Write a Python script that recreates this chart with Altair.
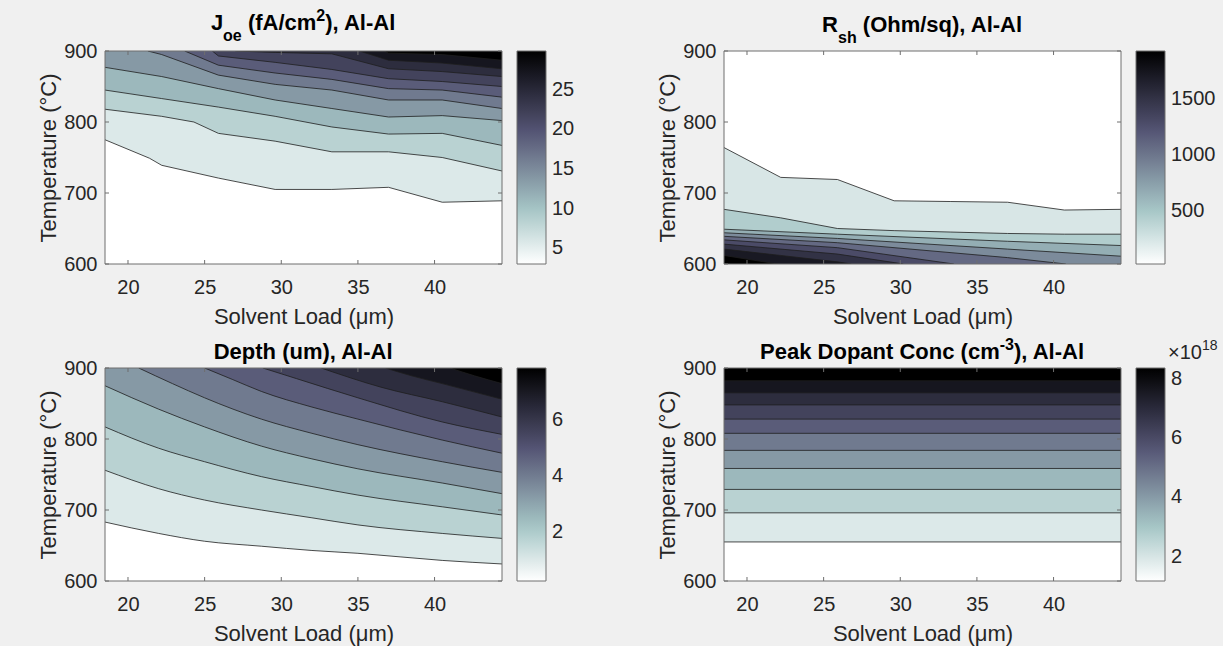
import altair as alt
import pandas as pd

FONT = "Liberation Sans"
TXT = "#262626"
EDGE = "#6e6e6e"
W, H = 397, 213

X_DOMAIN = [18.5, 44.4]
Y_DOMAIN = [600, 900]
x_ticks = [20, 25, 30, 35, 40]
y_ticks = [600, 700, 800, 900]

# ---------------- J_oe (fA/cm2) ----------------
joe_clim = [3.0, 29.9]
joe_levels = [5, 7.5, 10, 12.5, 15, 17.5, 20, 22.5, 25, 27.5]
joe_bar_ticks = [5, 10, 15, 20, 25]
joe_lines = [
    ([18.5, 21.4, 22.2, 25.9, 29.6, 33.3, 37.0, 40.5, 44.4], [775, 749, 739, 721, 705, 705, 708, 687, 689]),
    ([18.5, 22.2, 24.3, 25.9, 29.6, 33.3, 37.0, 40.5, 44.4], [818, 808, 800, 784, 773, 758, 758, 750, 731]),
    ([18.5, 22.2, 25.9, 29.6, 33.3, 37.0, 40.5, 44.4], [845, 833, 821, 808, 793, 783, 784, 767]),
    ([18.5, 22.2, 25.9, 29.6, 33.3, 37.0, 40.5, 44.4], [877, 864, 847, 831, 819, 807, 809, 802]),
    ([21.3, 22.2, 25.9, 29.6, 33.3, 37.0, 40.5, 44.4], [900, 895, 866, 853, 845, 831, 831, 819]),
    ([23.7, 25.9, 29.6, 33.3, 37.0, 40.5, 44.4], [900, 880, 869, 860, 847, 845, 835]),
    ([25.5, 25.9, 29.6, 33.3, 37.0, 40.5, 44.4], [900, 893, 884, 874, 861, 857, 850]),
    ([27.0, 29.6, 33.3, 37.0, 40.5, 44.4], [900, 898, 896, 875, 871, 864]),
    ([35.1, 37.0, 40.5, 44.4], [900, 887, 883, 875]),
    ([36.7, 37.0, 40.5, 44.4], [900, 897, 895, 887]),
]

# ---------------- R_sh (Ohm/sq) ----------------
rsh_clim = [27, 1929]
rsh_levels = [200, 400, 600, 800, 1000, 1200, 1400, 1600, 1800]
rsh_bar_ticks = [500, 1000, 1500]
rsh_lines = [
    ([18.5, 22.2, 25.9, 29.6, 33.3, 37.0, 40.7, 44.4], [764, 722, 719, 689, 688, 687, 676, 677]),
    ([18.5, 22.2, 25.9, 29.6, 33.3, 37.0, 40.7, 44.4], [677, 665, 650, 647, 645, 643, 642, 642]),
    ([18.5, 25.9, 37.0, 44.4], [649, 642, 632, 626]),
    ([18.5, 25.9, 37.0, 44.4], [644, 636, 621, 611]),
    ([18.5, 25.9, 37.0, 40.8], [639, 630, 609, 600]),
    ([18.5, 25.9, 33.5], [634, 623, 600]),
    ([18.5, 25.9, 29.6, 30.2], [628, 614, 602, 600]),
    ([18.5, 22.2, 25.9, 26.8], [621, 612, 603, 600]),
    ([18.5, 22.0], [612, 600]),
]

# ---------------- Depth (um) ----------------
dep_clim = [0.23, 7.87]
dep_levels = [0.75, 1.5, 2.25, 3.0, 3.75, 4.5, 5.25, 6.0, 6.75, 7.5]
dep_bar_ticks = [2, 4, 6]
dep_lines = [
    ([18.5, 22.0, 25.0, 28.7, 32.0, 35.0, 40.5, 44.4], [683, 667, 656, 649, 643, 639, 629, 624]),
    ([18.5, 22.0, 25.0, 28.7, 32.0, 35.0, 40.5, 44.4], [756, 730, 714, 700, 689, 679, 667, 660]),
    ([18.5, 22.0, 25.0, 28.7, 32.0, 35.0, 40.5, 44.4], [817, 787, 768, 747, 733, 721, 704.5, 693]),
    ([18.5, 22.0, 25.0, 28.7, 32.0, 35.0, 40.5, 44.4], [875, 842, 817, 790, 772, 758, 738, 723]),
    ([20.7, 22.9, 25.0, 28.7, 32.0, 35.0, 40.5, 44.4], [900, 878, 858, 828, 808, 792, 768, 753]),
    ([25.0, 26.8, 28.7, 32.0, 35.0, 40.5, 44.4], [900, 884, 867, 845, 828, 798.5, 780]),
    ([28.8, 31.0, 35.0, 40.5, 44.4], [900, 885, 858, 824, 806.5]),
    ([32.6, 36.5, 40.5, 44.4], [900, 873, 852.5, 831]),
    ([36.8, 38.5, 40.5, 44.4], [900, 889, 878, 856]),
    ([41.0, 42.6, 44.4], [900, 889, 878]),
]

# ---------------- Peak dopant conc (x1e18 cm-3) ----------------
peak_clim = [1.18, 8.36]
peak_levels = [1.5, 2.25, 3.0, 3.75, 4.5, 5.25, 6.0, 6.75, 7.5, 8.25]
peak_bar_ticks = [2, 4, 6, 8]
peak_temps = [655, 696, 729, 758.5, 784, 808, 828, 848, 865, 882]
peak_lines = [([18.5, 44.4], [t, t]) for t in peak_temps]

# Titles: (text, kind, leading gap) – kind n = normal, sub = subscript, sup = superscript
joe_title = [("J", "n", 0), ("oe", "sub", 0), ("(fA/cm", "n", 1), ("2", "sup", 0), ("), Al-Al", "n", 0)]
rsh_title = [("R", "n", 0), ("sh", "sub", 0), ("(Ohm/sq), Al-Al", "n", 1)]
dep_title = [("Depth (um), Al-Al", "n", 0)]
peak_title = [("Peak Dopant Conc (cm", "n", 0), ("-3", "sup", 0), ("), Al-Al", "n", 0)]
peak_note = [("×10", "n", 0), ("18", "sup", 0)]

# Arial/Liberation advance widths (1/1000 em)
BOLD_W = {" ": 278, "(": 333, ")": 333, ",": 278, "-": 333, "/": 278, "A": 722, "C": 722,
          "D": 722, "J": 556, "O": 778, "P": 667, "R": 722, "a": 556, "c": 556, "e": 556,
          "f": 333, "h": 611, "k": 556, "l": 278, "m": 889, "n": 611, "o": 611, "p": 611,
          "q": 611, "s": 556, "t": 333, "u": 611, "2": 556, "3": 556}
REG_W = {"×": 584, "1": 556, "0": 556, "8": 556}


def text_w(s, size, table):
    return sum(table.get(c, 556) for c in s) * size / 1000


def bone_hex(t):
    # MATLAB bone colormap: (7*gray + fliplr(hot)) / 8
    hr = min(1.0, t * 8 / 3)
    hg = min(1.0, max(0.0, (t - 3 / 8) * 8 / 3))
    hb = min(1.0, max(0.0, (t - 3 / 4) * 4))
    r = (7 * t + hb) / 8
    g = (7 * t + hg) / 8
    b = (7 * t + hr) / 8
    return "#%02x%02x%02x" % (round(r * 255), round(g * 255), round(b * 255))


def colour_scale(clim, n=16):
    lo, hi = clim
    dom = [lo + (hi - lo) * i / n for i in range(n + 1)]
    rng = [bone_hex(1 - i / n) for i in range(n + 1)]  # flipud(bone)
    return alt.Scale(domain=dom, range=rng, clamp=True, interpolate="rgb")


x_axis = alt.Axis(values=x_ticks, title="Solvent Load (μm)", format="d",
                  labelFont=FONT, labelFontSize=20, labelColor=TXT,
                  titleFont=FONT, titleFontSize=22, titleColor=TXT, titleFontWeight="normal",
                  ticks=False, domain=False, grid=False, labelPadding=13,
                  labelFlush=False, labelOverlap=False, titleY=59, titleBaseline="alphabetic")
y_axis = alt.Axis(values=y_ticks, title="Temperature (°C)", format="d",
                  labelFont=FONT, labelFontSize=20, labelColor=TXT,
                  titleFont=FONT, titleFontSize=22, titleColor=TXT, titleFontWeight="normal",
                  ticks=False, domain=False, grid=False, labelPadding=8,
                  labelFlush=False, labelOverlap=False, titleX=-57, titleBaseline="middle")


def rich_text(frame, pieces, x_start, base_y, size, small, bold, centre=False):
    table = BOLD_W if bold else REG_W
    gap_w = text_w(" ", size, BOLD_W)
    widths = [text_w(t, size if k == "n" else small, table) + g * gap_w for t, k, g in pieces]
    x = x_start - sum(widths) / 2 if centre else x_start
    out = []
    for (t, k, g), wd in zip(pieces, widths):
        x += g * gap_w
        fs = size if k == "n" else small
        dy = 0 if k == "n" else (11 if k == "sub" else -9)
        out.append(alt.Chart(frame).mark_text(align="left", baseline="alphabetic", font=FONT,
                                               fontSize=fs, fontWeight="bold" if bold else "normal",
                                               color="#000000" if bold else TXT)
                   .encode(x=alt.value(round(x, 1)), y=alt.value(base_y + dy), text=alt.value(t)))
        x += wd - g * gap_w
    return out


def panel(title, title_y, lines, levels, clim, bar_ticks, fill_to, interp, note=None):
    xs = alt.X("x:Q", scale=alt.Scale(domain=X_DOMAIN, nice=False, zero=False), axis=x_axis)
    ys = alt.Y("y:Q", scale=alt.Scale(domain=Y_DOMAIN, nice=False, zero=False), axis=y_axis)
    legend = alt.Legend(type="gradient", direction="vertical", orient="right", offset=15,
                        values=bar_ticks, format="d", gradientLength=H, gradientThickness=29,
                        gradientStrokeColor=EDGE, gradientStrokeWidth=1,
                        labelFont=FONT, labelFontSize=20, labelColor=TXT, labelOffset=6,
                        labelOverlap=False, padding=0)
    col = alt.Color("v:Q", scale=colour_scale(clim), legend=legend, title=None)

    # MATLAB contourf spreads the filled bands evenly over the colormap:
    # band k of N takes the colour at k/(N-1) of the colour limits
    n_bands = len(levels) + 1
    band_v = [clim[0] + (clim[1] - clim[0]) * k / (n_bands - 1) for k in range(n_bands)]

    base = pd.DataFrame({"x": X_DOMAIN, "y": [600, 600], "v": [band_v[0], band_v[0]]})
    layers = [alt.Chart(base).mark_area(clip=True).encode(x=xs, y=ys, y2=alt.datum(900), color=col)]

    rows = []
    for k, (lx, ly) in enumerate(lines):
        df = pd.DataFrame({"x": lx, "y": ly, "v": band_v[k + 1]})
        layers.append(alt.Chart(df).mark_area(clip=True, interpolate=interp)
                      .encode(x=xs, y=ys, y2=alt.datum(fill_to), color=col))
        for a, b in zip(lx, ly):
            rows.append({"x": a, "y": b, "lid": k})
    layers.append(alt.Chart(pd.DataFrame(rows)).mark_line(color="#1e1e1e", strokeWidth=0.8,
                                                          interpolate=interp, clip=True)
                  .encode(x=xs, y=ys, detail="lid:N"))

    xt = pd.DataFrame({"x": x_ticks})
    yt = pd.DataFrame({"y": y_ticks})
    tick_style = dict(color=EDGE, strokeWidth=1)
    layers.append(alt.Chart(xt).mark_rule(**tick_style).encode(x=xs, y=alt.value(H), y2=alt.value(H - 4)))
    layers.append(alt.Chart(xt).mark_rule(**tick_style).encode(x=xs, y=alt.value(0), y2=alt.value(4)))
    layers.append(alt.Chart(yt).mark_rule(**tick_style).encode(y=ys, x=alt.value(0), x2=alt.value(4)))
    layers.append(alt.Chart(yt).mark_rule(**tick_style).encode(y=ys, x=alt.value(W - 4), x2=alt.value(W)))
    frame = pd.DataFrame({"f": [0]})
    layers.append(alt.Chart(frame).mark_rect(filled=False, stroke=EDGE, strokeWidth=1)
                  .encode(x=alt.value(0), x2=alt.value(W), y=alt.value(0), y2=alt.value(H)))
    layers += rich_text(frame, title, W / 2, title_y, 22, 16, True, centre=True)
    if note:
        layers += rich_text(frame, note, W + 47, -9.5, 20, 14, False)

    return alt.layer(*layers).properties(width=W, height=H)


tl = panel(joe_title, -21, joe_lines, joe_levels, joe_clim, joe_bar_ticks, 900, "linear")
tr = panel(rsh_title, -19.5, rsh_lines, rsh_levels, rsh_clim, rsh_bar_ticks, 600, "linear")
bl = panel(dep_title, -9, dep_lines, dep_levels, dep_clim, dep_bar_ticks, 900, "monotone")
br = panel(peak_title, -9, peak_lines, peak_levels, peak_clim, peak_bar_ticks, 900, "linear",
           note=peak_note)

chart = (
    alt.concat(tl, tr, bl, br, columns=2, spacing={"row": 104, "column": 222}, bounds="flush")
    .resolve_scale(color="independent", x="independent", y="independent")
    .resolve_legend(color="independent")
    .properties(padding={"left": 36, "top": 8, "right": 5, "bottom": 2})
    .configure(background="#f0f0f0", font=FONT)
    .configure_view(strokeWidth=0)
    .configure_legend(gradientVerticalMaxLength=400)
)

chart.save("out.html", embed_options={"renderer": "svg", "actions": False})
